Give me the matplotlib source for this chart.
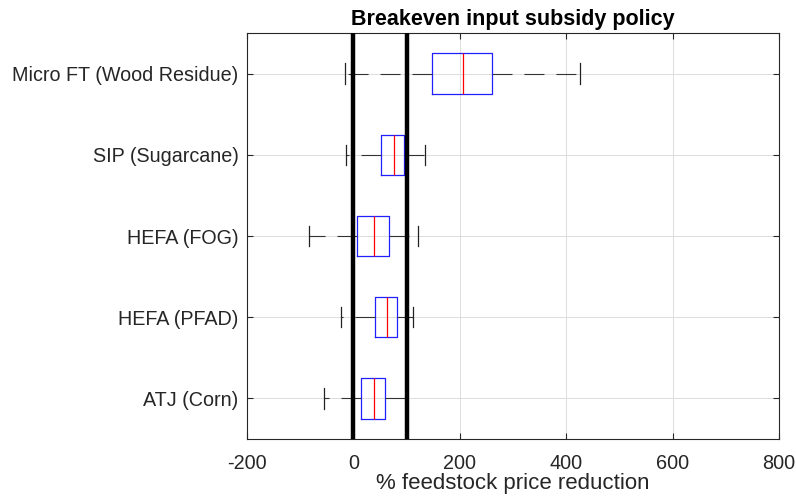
import matplotlib.pyplot as plt

plt.rcParams['font.family'] = ['Liberation Sans', 'DejaVu Sans']
plt.rcParams['lines.scale_dashes'] = False

# bottom to top
labels = ['ATJ (Corn)', 'HEFA (PFAD)', 'HEFA (FOG)', 'SIP (Sugarcane)', 'Micro FT (Wood Residue)']
whislo = [-55, -23, -83, -13, -16]
q1 = [14, 40, 7, 52, 148]
med = [38, 64, 39, 77, 206]
q3 = [59, 82, 67, 96, 260]
whishi = [98, 112, 122, 135, 425]

xticks = [-200, 0, 200, 400, 600, 800]
ref_lines = [0, 100]

stats = []
for i in range(len(labels)):
    stats.append({'label': labels[i], 'whislo': whislo[i], 'q1': q1[i], 'med': med[i],
                  'q3': q3[i], 'whishi': whishi[i], 'fliers': []})

fig = plt.figure(figsize=(7.96, 4.98), dpi=100)
ax = fig.add_axes([0.3103, 0.1185, 0.6684, 0.8152])

ax.bxp(stats, positions=range(1, len(labels) + 1), vert=False, widths=0.5,
       showfliers=False,
       boxprops=dict(color='#2020ff', linewidth=0.9),
       medianprops=dict(color='#ff0000', linewidth=0.9),
       whiskerprops=dict(color='#333333', linewidth=0.8, linestyle=(0, (14.4, 8.6))),
       capprops=dict(color='#222222', linewidth=0.9),
       capwidths=0.25)

for v in ref_lines:
    ax.axvline(v, color='black', linewidth=3.2, zorder=5)

ax.set_xlim(-200, 800)
ax.set_ylim(0.5, len(labels) + 0.5)
ax.set_xticks(xticks)
ax.set_xticklabels([str(t) for t in xticks], fontsize=14.3)
ax.set_yticks(range(1, len(labels) + 1))
ax.set_yticklabels(labels, fontsize=14.2)
ax.grid(True, color='#dcdcdc', linewidth=0.7)
ax.set_axisbelow(True)
ax.tick_params(axis='both', direction='in', top=True, right=True, length=4, color='#262626',
               labelcolor='#262626')
ax.tick_params(axis='x', pad=11)
ax.tick_params(axis='y', pad=6)
for s in ax.spines.values():
    s.set_color('#262626')
    s.set_linewidth(0.8)

ax.set_title('Breakeven input subsidy policy', fontsize=15.5, fontweight='bold', pad=6)
ax.set_xlabel('% feedstock price reduction', fontsize=16, color='#262626', labelpad=0)

fig.savefig('out.png', dpi=100)
